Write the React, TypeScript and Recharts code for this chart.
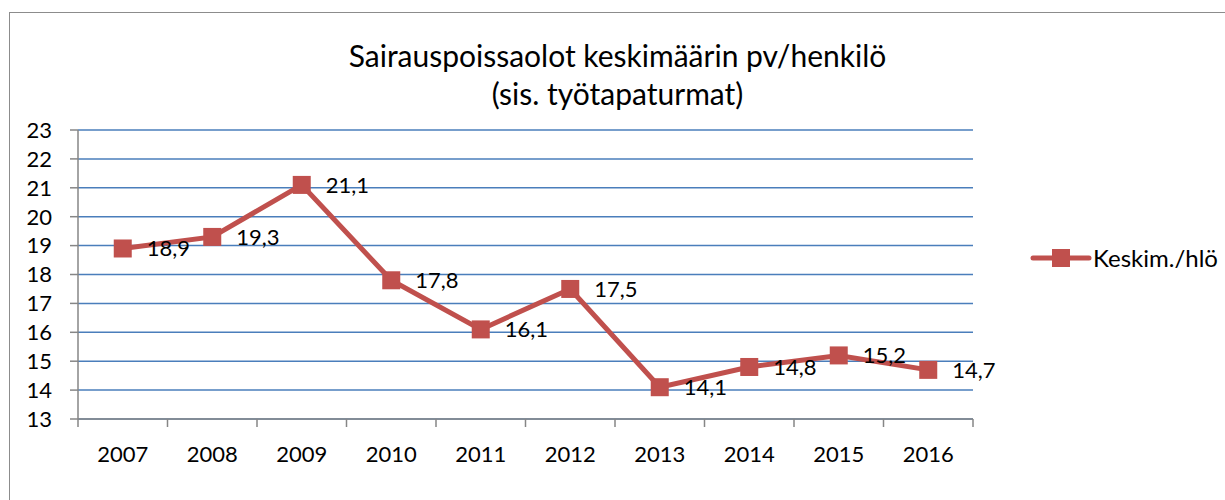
import { LineChart, Line, XAxis, YAxis, CartesianGrid, LabelList } from "recharts";

const years = ["2007", "2008", "2009", "2010", "2011", "2012", "2013", "2014", "2015", "2016"];
const values = [18.9, 19.3, 21.1, 17.8, 16.1, 17.5, 14.1, 14.8, 15.2, 14.7];
const yTicks = [13, 14, 15, 16, 17, 18, 19, 20, 21, 22, 23];
const seriesName = "Keskim./hlö";
const titleLines = ["Sairauspoissaolot keskimäärin pv/henkilö", "(sis. työtapaturmat)"];

const RED = "#c0504d";
const GRID = "#4a7ebb";
const AXIS = "#868686";
const FONT = "Lato, 'Open Sans', sans-serif";
const TICK_MARGIN = 27;
const TICK_LEN = 8;

const data = years.map((year, i) => ({ year, value: values[i] }));

function SquareDot(props: any) {
  const { cx, cy, index } = props;
  if (cx == null || cy == null) return null;
  return <rect key={`dot-${index}`} x={cx - 9} y={cy - 9} width={18} height={18} fill={RED} />;
}

// category label plus Excel-style tick marks on the band edges
function YearTick(props: any) {
  const { x, y, payload, index, visibleTicksCount } = props;
  const half = payload?.offset ?? 0;
  const axisY = y - TICK_MARGIN;
  const isLast = index === visibleTicksCount - 1;
  return (
    <g>
      <line x1={x - half} x2={x - half} y1={axisY} y2={axisY + TICK_LEN} stroke={AXIS} strokeWidth={1.5} />
      {isLast && (
        <line x1={x + half} x2={x + half} y1={axisY} y2={axisY + TICK_LEN} stroke={AXIS} strokeWidth={1.5} />
      )}
      <text x={x} y={y} dy="0.71em" textAnchor="middle" fill="#000" fontSize={22} fontFamily={FONT}>
        {payload.value}
      </text>
    </g>
  );
}

export default function App() {
  return (
    <div
      style={{
        position: "absolute",
        left: 0,
        top: 0,
        width: 1225,
        height: 500,
        background: "#fff",
        fontFamily: FONT,
        overflow: "hidden",
      }}
    >
      <div
        style={{
          position: "absolute",
          left: 9,
          top: 12,
          width: 1230,
          height: 500,
          border: "1px solid #8c8c8c",
        }}
      />
      <div
        style={{
          position: "absolute",
          left: 0,
          width: 1235,
          top: 36,
          textAlign: "center",
          fontSize: 30,
          lineHeight: "38px",
          color: "#000",
        }}
      >
        {titleLines.map((t) => (
          <div key={t}>{t}</div>
        ))}
      </div>

      <LineChart
        width={1225}
        height={500}
        data={data}
        margin={{ top: 130, right: 252, left: 0, bottom: 41 }}
        style={{ position: "absolute", left: 0, top: 0 }}
      >
        <CartesianGrid horizontal vertical={false} stroke={GRID} strokeWidth={1.5} />
        <XAxis
          dataKey="year"
          scale="band"
          height={40}
          axisLine={{ stroke: AXIS, strokeWidth: 1.5 }}
          tickLine={false}
          tickSize={0}
          tickMargin={TICK_MARGIN}
          tick={<YearTick />}
          interval={0}
        />
        <YAxis
          width={78}
          domain={[13, 23]}
          ticks={yTicks}
          interval={0}
          tickSize={TICK_LEN}
          tickMargin={18}
          axisLine={{ stroke: AXIS, strokeWidth: 1.5 }}
          tickLine={{ stroke: AXIS, strokeWidth: 1.5 }}
          tick={{ fill: "#000", fontSize: 22, fontFamily: FONT }}
        />
        <Line
          dataKey="value"
          name={seriesName}
          stroke={RED}
          strokeWidth={5}
          dot={<SquareDot />}
          activeDot={false}
          isAnimationActive={false}
          legendType="none"
        >
          <LabelList
            dataKey="value"
            position="right"
            offset={24}
            formatter={(v: any) => String(v).replace(".", ",")}
            fill="#000"
            fontSize={22}
            fontFamily={FONT}
          />
        </Line>
      </LineChart>

      <div style={{ position: "absolute", left: 1030, top: 243, display: "flex", alignItems: "center" }}>
        <svg width={62} height={28}>
          <line x1={3} y1={14} x2={59} y2={14} stroke={RED} strokeWidth={5} strokeLinecap="round" />
          <rect x={22} y={5} width={18} height={18} fill={RED} />
        </svg>
        <span style={{ fontSize: 24, color: "#000", marginLeft: 1 }}>{seriesName}</span>
      </div>
    </div>
  );
}
